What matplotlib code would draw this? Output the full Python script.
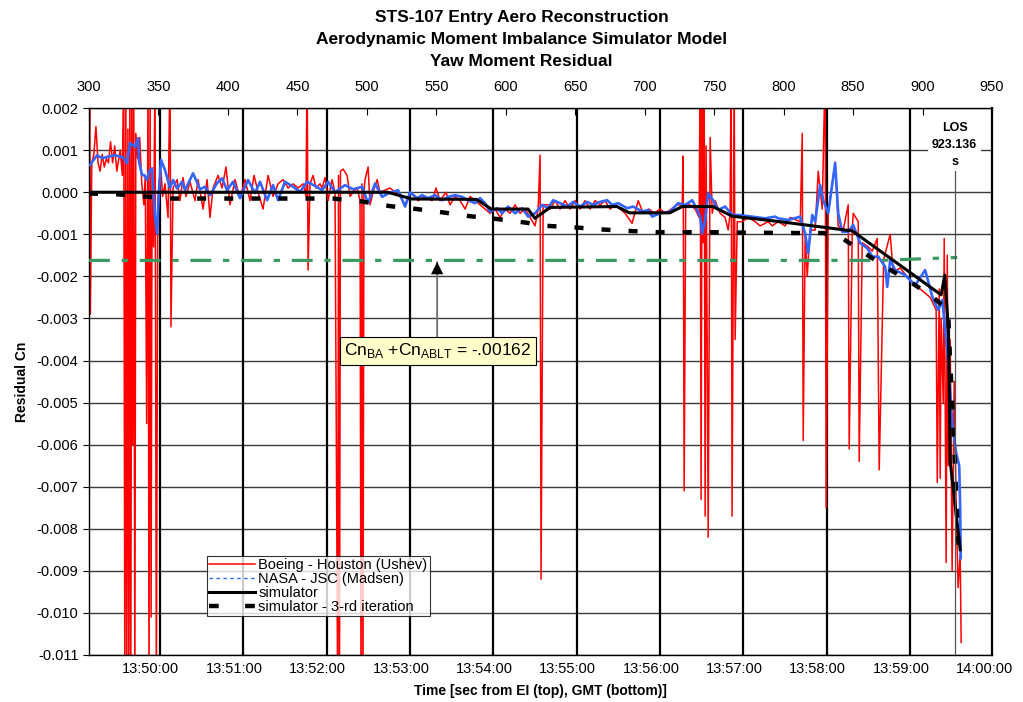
import matplotlib
matplotlib.use("Agg")
import matplotlib.pyplot as plt
from matplotlib.lines import Line2D

plt.rcParams['font.family'] = ['Liberation Sans', 'DejaVu Sans']
plt.rcParams['lines.scale_dashes'] = False

# ---- data (EI seconds, residual Cn) ----
boeing_t = [300.0, 300.5, 301.0, 302.0, 303.5, 305.0, 306.5, 308.0, 309.5, 311.0, 312.5, 314.0,
            315.5, 317.0, 318.5, 320.0, 321.5, 322.5, 324.0, 325.0, 325.8, 326.5, 327.2, 328.0,
            328.7, 329.4, 330.1, 330.8, 331.5, 332.2, 333.0, 333.7, 335.0, 336.5, 338.0, 339.5,
            340.5, 341.5, 342.5, 343.2, 344.0, 344.7, 345.4, 346.5, 347.5, 348.5, 349.5, 350.5,
            351.8, 353.0, 354.7, 356.9, 358.3, 359.0, 360.5, 363.4, 365.5, 367.7, 369.8, 372.7,
            376.3, 378.5, 382.1, 385.0, 387.1, 389.3, 392.9, 395.8, 398.6, 401.5, 405.1, 408.7,
            412.3, 415.9, 418.8, 421.7, 425.3, 428.9, 432.5, 436.1, 439.7, 443.3, 446.9, 450.5,
            454.1, 456.2, 457.0, 457.7, 459.1, 461.3, 463.4, 466.3, 467.8, 469.9, 472.1, 474.9,
            477.1, 479.0, 479.6, 480.3, 481.0, 482.9, 485.8, 487.9, 490.1, 493.0, 495.1, 495.8,
            496.5, 497.2, 497.9, 498.7, 500.9, 502.3, 504.5, 507.4, 509.5, 516.7, 523.9, 527.5,
            531.1, 536.9, 541.9, 547.0, 549.8, 552.7, 557.0, 559.9, 563.5, 567.1, 570.7, 574.3,
            577.9, 581.5, 585.1, 588.7, 592.3, 595.9, 599.5, 603.1, 606.7, 610.3, 613.9, 617.5,
            621.1, 623.3, 624.7, 625.4, 626.9, 630.5, 631.9, 635.5, 639.1, 642.7, 646.3, 649.9,
            653.5, 657.1, 660.7, 664.3, 667.9, 671.5, 675.1, 678.7, 682.3, 685.9, 690.9, 695.3,
            699.0, 703.0, 707.0, 711.0, 715.0, 719.0, 723.0, 727.0, 727.7, 728.4, 729.5, 732.7,
            736.3, 739.2, 739.9, 740.6, 741.4, 742.1, 742.8, 743.5, 744.2, 745.7, 747.1, 748.6,
            750.7, 754.3, 757.9, 760.1, 761.5, 762.2, 762.9, 764.4, 765.1, 766.6, 770.2, 774.5,
            779.5, 783.1, 788.9, 791.8, 796.1, 801.1, 804.7, 812.0, 813.4, 814.1, 815.5, 817.0,
            819.0, 822.7, 824.9, 827.8, 829.9, 830.6, 832.1, 837.1, 839.3, 842.9, 846.5, 847.2,
            849.4, 850.1, 853.7, 854.4, 856.6, 860.9, 863.8, 867.4, 868.8, 872.0, 876.7, 878.9,
            883.9, 891.1, 898.3, 905.5, 909.8, 910.6, 912.0, 912.7, 913.4, 914.9, 915.6, 917.0,
            917.8, 918.5, 919.9, 921.3, 922.8, 924.2, 925.6, 927.1, 927.8]
boeing_cn = [0.0006, 0.0025, -0.0029, 0.0007, 0.0009, 0.00156, 0.0007, 0.0005, 0.0009, 0.0006, 0.0008, 0.0007,
             0.0012, 0.0007, 0.0011, 0.0005, 0.0008, 0.0010, 0.0004, 0.0030, -0.0120, 0.0030, -0.0120, 0.0015,
             -0.0120, 0.0030, -0.0120, 0.0030, -0.0060, 0.0030, -0.0120, 0.0014, 0.0008, 0.0013, 0.0002, -0.0003,
             0.0004, -0.0055, 0.0030, -0.0120, 0.0030, -0.0101, 0.0004, -0.0013, 0.0030, -0.0120, -0.0002, 0.0003,
             0.0005, -0.0001, 0.0002, -0.0006, 0.0030, -0.0032, 0.0001, 0.0003, -0.0002, 0.00035, -0.0001, 0.00025,
             -0.0002, 0.0003, -0.0004, 0.0003, -0.0006, 0.0001, 0.0004, 0.0001, 0.0006, -0.0003, 0.0003, -0.00015,
             0.0003, -0.0002, 0.0004, 0.0, -0.0004, 0.0004, -0.0001, 0.0002, 0.0003, 0.0001, 0.0002, 0.0001,
             0.0002, -0.0001, 0.0030, -0.00185, 0.0002, 0.0004, 0.0001, 0.0002, 0.0001, 0.00035, -0.0002, 0.0003,
             0.0, -0.0120, 0.0004, -0.0120, 0.0005, 0.00055, 0.0004, -0.0001, 0.0, 0.0001, -0.0002, -0.0120,
             0.0002, -0.0120, 0.0, 0.0003, 0.0006, -0.0003, 0.0, 0.0003, 0.0, 0.0001, -0.0001, -0.0003,
             0.0, -0.0002, -0.0001, -0.0002, 0.0001, -0.0002, 0.0, -0.0003, -0.0001, -0.0002, -0.0004, -0.0001,
             -0.0002, -0.0003, -0.0004, -0.0005, -0.0004, -0.0006, -0.0004, -0.0005, -0.0003, -0.0005, -0.0004, -0.0006,
             -0.0008, -0.0004, 0.00088, -0.0092, -0.0003, -0.0003, -0.0004, -0.0002, -0.0004, -0.0002, -0.0004, -0.0002,
             -0.0004, -0.0002, -0.0004, -0.0002, -0.0003, -0.0002, -0.0004, -0.0003, -0.0004, -0.0005, -0.00074, -0.0002,
             -0.0005, -0.0004, -0.0005, -0.0004, -0.0005, -0.0004, -0.0003, -0.0003, 0.00086, -0.0071, -0.0003, -0.0003,
             -0.0004, -0.0006, 0.0030, -0.0073, 0.0030, -0.0012, 0.0030, -0.0077, 0.0011, -0.0082, 0.0013, -0.0005,
             -0.0002, -0.0005, -0.0006, -0.0009, -0.0005, 0.0030, -0.0077, 0.0030, -0.0035, -0.0007, -0.0007, -0.0006,
             -0.0007, -0.0008, -0.0007, -0.0008, -0.0007, -0.0008, -0.0006, -0.0007, 0.0014, -0.0059, -0.0010, -0.0020,
             -0.0009, -0.0009, 0.0005, -0.0004, 0.0030, -0.0075, -0.0005, 0.00072, -0.0008, -0.0009, -0.0003, -0.0061,
             -0.0009, -0.0005, -0.0007, -0.0064, -0.0012, -0.0013, -0.0014, -0.0011, -0.0066, -0.0016, -0.0010, -0.0019,
             -0.0018, -0.0021, -0.0023, -0.0025, -0.0028, -0.0069, -0.0023, -0.0068, -0.0030, -0.0050, -0.0011, -0.0088,
             -0.0015, -0.0065, -0.0035, -0.0090, -0.0045, -0.0075, -0.0094, -0.0086, -0.0107]

jsc_t = [300.7, 305.8, 309.4, 313.0, 318.7, 324.5, 327.4, 329.5, 333.1, 335.3, 336.0, 338.2,
         339.6, 341.8, 343.2, 345.4, 346.1, 347.5, 349.0, 349.7, 351.8, 354.7, 358.3, 360.5,
         363.4, 367.0, 369.1, 374.9, 379.9, 383.5, 387.1, 392.2, 395.8, 399.4, 403.7, 408.7,
         414.5, 419.5, 423.1, 428.2, 432.5, 436.1, 441.1, 446.9, 451.9, 457.0, 462.7, 467.8,
         472.1, 477.1, 484.3, 490.1, 496.6, 500.9, 505.9, 511.0, 515.3, 522.5, 527.5, 531.1,
         536.2, 539.8, 544.1, 549.1, 554.2, 558.5, 563.5, 568.6, 572.9, 577.9, 581.5, 585.1,
         588.7, 593.8, 597.4, 601.7, 606.7, 611.8, 616.1, 621.1, 626.2, 630.5, 634.1, 639.1,
         644.2, 648.5, 653.5, 658.6, 662.9, 667.9, 673.0, 676.6, 680.9, 687.4, 691.7, 698.2,
         702.5, 705.4, 711.1, 718.3, 724.1, 729.1, 734.2, 737.8, 739.9, 741.4, 743.5, 745.7,
         749.3, 752.9, 757.9, 763.0, 767.3, 777.4, 786.7, 793.9, 796.1, 803.3, 811.9, 815.5,
         817.7, 820.6, 822.7, 826.3, 828.5, 832.1, 837.1, 839.3, 842.2, 846.5, 850.1, 855.1,
         860.2, 863.8, 868.1, 873.1, 874.6, 876.7, 880.3, 887.5, 894.7, 901.9, 907.0, 911.3,
         914.2, 918.5, 921.4, 924.2, 926.4, 927.1, 927.5]
jsc_cn = [0.00065, 0.00088, 0.00081, 0.00084, 0.00088, 0.00083, 0.00069, 0.00117, 0.00108, 0.00128, 0.00072, 0.00041,
          0.00041, 0.00029, 0.00049, 0.00057, 0.00013, -0.00058, -0.00098, -0.00042, 0.00077, 0.00053, 0.0001, 0.00029,
          0.00009, 0.00025, 0.00005, 0.00045, 0.00007, 0.00013, -0.00007, 0.00022, 0.00033, 0.00005, 0.00025, -0.00014,
          0.00029, -0.00002, 0.00025, -0.00019, 0.00017, -0.00019, 0.00025, 0.00013, 0.00001, 0.00025, 0.00015, 0.00005,
          0.00025, 0.0, 0.00017, 0.00007, 0.00013, -0.00026, 0.00021, -0.00011, -0.00003, 0.00005, -0.00034, 0.0,
          -0.00014, -0.00007, -0.00014, -0.00007, -0.00019, -0.00011, -0.00007, -0.00011, -0.00019, -0.00026, -0.00014, -0.00026,
          -0.00046, -0.00038, -0.0005, -0.00034, -0.0005, -0.00038, -0.00058, -0.0005, -0.0003, -0.00038, -0.00019, -0.00026,
          -0.00034, -0.00023, -0.00034, -0.00023, -0.0003, -0.00023, -0.00019, -0.0003, -0.00026, -0.00038, -0.00034, -0.00046,
          -0.00042, -0.00058, -0.0005, -0.00046, -0.00026, -0.0003, -0.00019, -0.00042, -0.00058, -0.00098, -0.00066, -0.00003,
          -0.00019, -0.00042, -0.00034, -0.00054, -0.00054, -0.00058, -0.00062, -0.00058, -0.00062, -0.00066, -0.00058, -0.00098,
          -0.00145, -0.00054, -0.0007, 0.00017, -0.00019, -0.0005, 0.00069, -0.0005, -0.00094, -0.00094, -0.00078, -0.00121,
          -0.00133, -0.00153, -0.00153, -0.00177, -0.00225, -0.00161, -0.00185, -0.00197, -0.00221, -0.00185, -0.00248, -0.0028,
          -0.00256, -0.0040, -0.0055, -0.0062, -0.0065, -0.0075, -0.0087]

sim_t = [300.0, 515.0, 532.5, 579.0, 589.6, 616.0, 621.0, 632.0, 680.0, 689.0, 718.0, 727.0,
         749.0, 763.0, 797.5, 849.5, 913.4, 916.0, 918.7, 919.9, 927.1]
sim_cn = [0.0, 0.0, -0.00016, -0.00017, -0.0004, -0.0004, -0.00062, -0.00036, -0.00034, -0.00049, -0.00049, -0.00034,
          -0.00034, -0.00057, -0.0007, -0.00092, -0.00244, -0.00197, -0.0033, -0.0064, -0.0085]

sim3_t = [300.0, 320.9, 340.3, 357.6, 475.7, 496.5, 516.7, 536.1, 554.9, 574.3, 594.5, 613.9,
          629.7, 647.7, 666.5, 688.0, 710.4, 749.2, 769.4, 808.3, 828.4, 840.7, 856.5, 873.1,
          889.6, 905.5, 918.4, 919.9, 921.3, 923.5, 925.6, 927.1]
sim3_cn = [-0.00003, -0.00005, -0.0001, -0.00015, -0.00015, -0.00022, -0.00033, -0.0004, -0.00048, -0.00057, -0.00064, -0.00072,
           -0.0008, -0.00083, -0.00088, -0.00092, -0.00095, -0.00095, -0.00096, -0.00097, -0.00097, -0.00106, -0.00141, -0.00177,
           -0.0021, -0.00244, -0.0028, -0.00406, -0.00494, -0.0066, -0.00826, -0.00862]

cn_bias_t = [300.0, 870.0, 925.0]
cn_bias = [-0.00162, -0.00162, -0.00155]

ei_ticks = list(range(300, 951, 50))
gmt_lines = [351, 411, 471, 531, 591, 651, 711, 771, 831, 891, 951]
gmt_labels = ["13:50:00", "13:51:00", "13:52:00", "13:53:00", "13:54:00", "13:55:00",
              "13:56:00", "13:57:00", "13:58:00", "13:59:00", "14:00:00"]
los_t = 923.136

fig = plt.figure(figsize=(10.23, 7.02), dpi=100)
ax = fig.add_axes([0.087, 0.067, 0.8827, 0.779])

ax.set_xlim(300, 950)
ax.set_ylim(-0.011, 0.002)

# grid
for k in range(-11, 3):
    ax.axhline(k * 0.001, color='#3a3a3a', lw=1.0, zorder=1)
for g in gmt_lines:
    ax.axvline(g, color='black', lw=1.6, zorder=1)

ax.plot(boeing_t, boeing_cn, color='red', lw=1.1, zorder=2)
ax.plot(jsc_t, jsc_cn, color='#3366ff', lw=1.9, zorder=3)
ax.plot(cn_bias_t, cn_bias, color='#3a9a62', lw=2.3, linestyle=(0, (15, 8.5, 4.5, 8.5)), zorder=4)
ax.plot(sim_t, sim_cn, color='black', lw=2.2, zorder=5)
ax.plot(sim3_t, sim3_cn, color='black', lw=3.2, linestyle=(0, (6.5, 13)), zorder=6)

# LOS marker
ax.plot([los_t, los_t], [-0.011, 0.00068], color='#555555', lw=0.9, zorder=6)
ax.text(los_t, 0.00113, "LOS\n923.136\ns", ha='center', va='center', fontsize=9,
        fontweight='bold', linespacing=1.55, zorder=7,
        bbox=dict(boxstyle='square,pad=0.3', fc='white', ec='none'))

# annotation: gray shaft, black head
ann_tip = (550.6, -0.00166)
ann_box = (551, -0.00377)
ax.annotate("", xy=ann_tip, xytext=(550.6, -0.00344),
            arrowprops=dict(arrowstyle='-', color='#707070', lw=1.3, shrinkA=0, shrinkB=0), zorder=7)
ax.annotate("", xy=ann_tip, xytext=(550.6, -0.00190),
            arrowprops=dict(arrowstyle='-|>', color='black', lw=0.5, mutation_scale=20,
                            shrinkA=0, shrinkB=0), zorder=7)
ax.text(ann_box[0], ann_box[1], r"Cn$_{\mathregular{BA}}$ +Cn$_{\mathregular{ABLT}}$ = -.00162",
        ha='center', va='center', fontsize=12.5, zorder=8,
        bbox=dict(boxstyle='square,pad=0.25', fc='#ffffcc', ec='black', lw=0.8))

# axes styling
ax.xaxis.tick_top()
ax.set_xticks(ei_ticks)
ax.tick_params(axis='x', direction='in', length=5, labelsize=10.5, pad=10)
ax.set_yticks([k * 0.001 for k in range(-11, 3)])
ax.set_yticklabels([f"{k * 0.001:.3f}" for k in range(-11, 3)])
ax.tick_params(axis='y', direction='out', length=4, labelsize=10.5)
ax.set_ylabel("Residual Cn", fontsize=10, fontweight='bold', labelpad=6)
for s in ax.spines.values():
    s.set_color('black')
    s.set_linewidth(1.0)
ax.spines['right'].set_linewidth(1.6)

sec = ax.secondary_xaxis('bottom')
sec.set_xticks([g - 6.5 for g in gmt_lines])
sec.set_xticklabels(gmt_labels)
sec.tick_params(length=0, labelsize=10.5, pad=5)
sec.spines['bottom'].set_visible(False)
sec.set_xlabel("Time [sec from EI (top), GMT (bottom)]", fontsize=10, fontweight='bold', labelpad=6)

handles = [Line2D([], [], color='red', lw=1.1),
           Line2D([], [], color='#3366ff', lw=1.0, linestyle=(0, (2.5, 2.5))),
           Line2D([], [], color='black', lw=2.2),
           Line2D([], [], color='black', lw=3.2, linestyle=(0, (7, 19)))]
labels = ["Boeing - Houston (Ushev)", "NASA - JSC (Madsen)", "simulator", "simulator - 3-rd iteration"]
leg = ax.legend(handles, labels, loc='lower left', bbox_to_anchor=(0.131, 0.071),
                fontsize=10.5, frameon=True, fancybox=False, handlelength=3.1,
                labelspacing=0.0, borderpad=0.15, handletextpad=0.25, borderaxespad=0)
leg.get_frame().set_edgecolor('black')
leg.get_frame().set_linewidth(0.8)
leg.set_zorder(9)

fig.text(0.510, 0.986, "STS-107 Entry Aero Reconstruction\nAerodynamic Moment Imbalance Simulator Model\nYaw Moment Residual",
         ha='center', va='top', fontsize=12.5, fontweight='bold', linespacing=1.57)

fig.savefig("out.png", dpi=100)
